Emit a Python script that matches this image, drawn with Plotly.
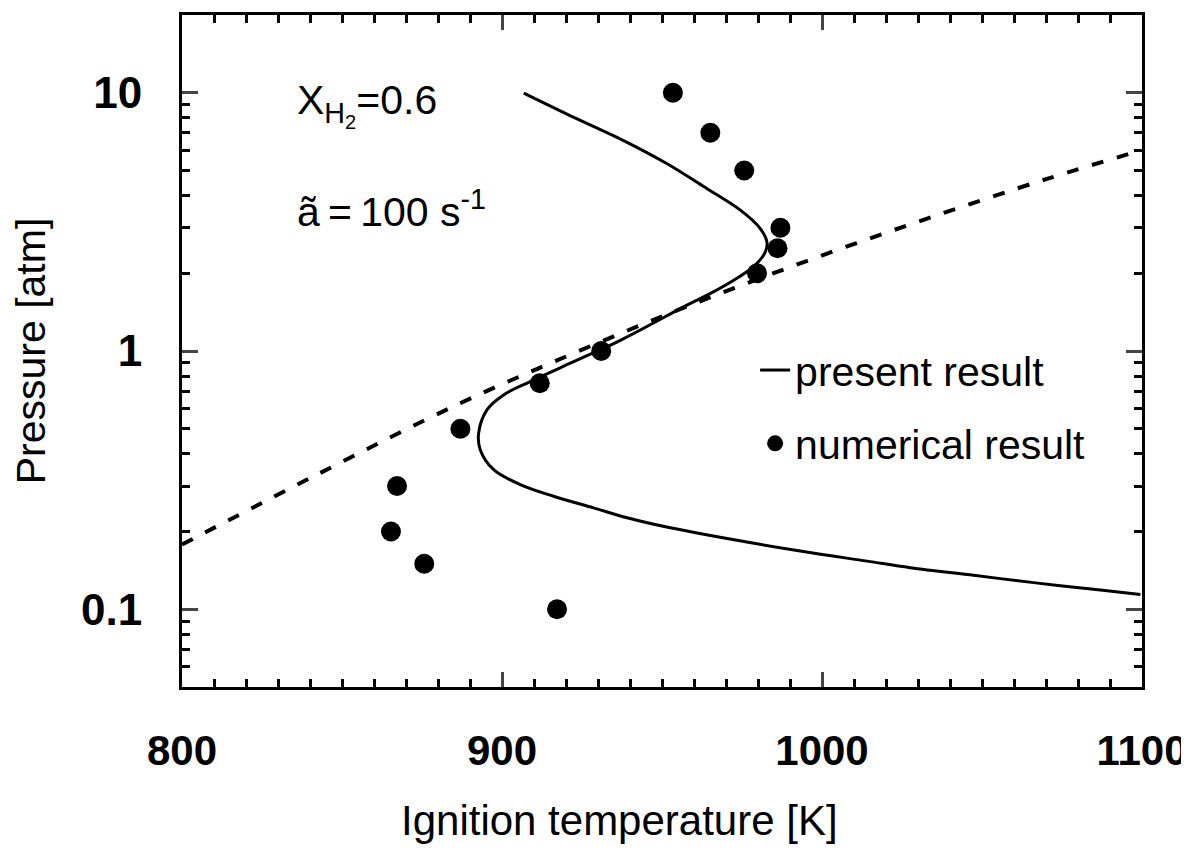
import plotly.graph_objects as go

# Present result (solid curve): ignition temperature [K], pressure [atm]
present_T = [906.8, 920.3, 938.0, 951.6, 964.1, 974.5, 980.7, 982.8, 982.3, 978.6,
             972.4, 964.1, 957.8, 937.0, 922.4, 908.8, 900.5, 895.3, 892.7, 893.2,
             897.4, 905.7, 916.1, 928.6, 939.1, 952.6, 993.2, 1014.1, 1027.6,
             1047.4, 1066.1, 1087.0, 1099.5]
present_P = [9.97, 8.27, 6.53, 5.31, 4.25, 3.51, 2.98, 2.64, 2.42, 2.12,
             1.88, 1.645, 1.505, 1.10, 0.909, 0.761, 0.676, 0.592, 0.481, 0.415,
             0.347, 0.304, 0.274, 0.247, 0.226, 0.2067, 0.168, 0.1536, 0.1449,
             0.1353, 0.1268, 0.1187, 0.114]

# Numerical result (dots)
numer_T = [953.4, 965.1, 975.7, 987.0, 986.1, 979.7, 931.0, 911.8, 887.0,
           867.2, 865.3, 875.7, 917.2]
numer_P = [10.0, 7.0, 5.0, 3.0, 2.5, 2.0, 1.0, 0.75, 0.5, 0.3, 0.2, 0.15, 0.1]

# Dashed reference curve
dash_T = [800.0, 841.1, 885.9, 922.4, 958.8, 995.8, 1033.3, 1070.3, 1099.5]
dash_P = [0.178, 0.327, 0.619, 0.98, 1.505, 2.245, 3.27, 4.64, 5.97]

x_ticks = [800, 900, 1000, 1100]
y_ticks = [0.1, 1, 10]
y_tick_text = ["0.1", "1", "10"]
y_minor = [0.05, 0.06, 0.07, 0.08, 0.09, 0.2, 0.3, 0.4, 0.5, 0.6, 0.7, 0.8, 0.9,
           2, 3, 4, 5, 6, 7, 8, 9, 20]

FONT = "Liberation Sans, Arial, Helvetica, sans-serif"

fig = go.Figure()
fig.add_trace(go.Scatter(x=dash_T, y=dash_P, mode="lines", showlegend=False,
                         line=dict(color="black", width=4, dash="12px,14px", shape="spline")))
fig.add_trace(go.Scatter(x=present_T, y=present_P, mode="lines", name="present result",
                         legendgroup="a",
                         line=dict(color="black", width=3, shape="spline")))
fig.add_trace(go.Scatter(x=numer_T, y=numer_P, mode="markers", name="numerical result",
                         legendgroup="b",
                         marker=dict(color="black", size=20)))

# the page body adds an 8px margin, so the figure is 8px smaller and margins compensate
fig.update_layout(
    width=1181, height=853,
    margin=dict(l=174, r=47, t=7, b=174),
    paper_bgcolor="white", plot_bgcolor="white",
    font=dict(family=FONT, size=40, color="black"),
    legend=dict(x=0.597, y=0.521, xanchor="left", yanchor="top",
                bgcolor="rgba(0,0,0,0)", font=dict(size=41), tracegroupgap=17),
)
fig.update_xaxes(
    range=[800, 1100], tickvals=x_ticks, ticks="inside", ticklen=15, tickwidth=2.5,
    showline=True, linecolor="black", linewidth=3, mirror="allticks",
    showgrid=False, zeroline=False, ticklabelstandoff=25, automargin=False,
    tickfont=dict(size=42, weight="bold"),
    minor=dict(dtick=10, ticks="inside", ticklen=8, tickwidth=2.5, tickcolor="black", showgrid=False),
)
fig.update_yaxes(
    type="log", range=[-1.30103, 1.30103], tickvals=y_ticks, ticktext=y_tick_text,
    ticks="inside", ticklen=16, tickwidth=2.5,
    showline=True, linecolor="black", linewidth=3, mirror="allticks",
    showgrid=False, zeroline=False, ticklabelstandoff=28, automargin=False,
    tickfont=dict(size=44, weight="bold"),
    minor=dict(tickvals=y_minor, ticks="inside", ticklen=8, tickwidth=2.5, tickcolor="black", showgrid=False),
    title=dict(text="Pressure [atm]", standoff=25, font=dict(size=41)),
)

# x-axis title (offset left of plot centre, as in the original)
fig.add_annotation(xref="paper", yref="paper", x=0.456, y=-0.199, xanchor="center", yanchor="middle",
                   text="Ignition temperature [K]", showarrow=False, font=dict(size=42))

fig.add_annotation(xref="paper", yref="paper", x=0.118, y=0.866, xanchor="left", yanchor="middle",
                   text="X<sub>H<sub>2</sub></sub>=0.6", showarrow=False, font=dict(size=41))
fig.add_annotation(xref="paper", yref="paper", x=0.118, y=0.711, xanchor="left", yanchor="middle",
                   text="ã\u2009=\u2009100 s<sup>-1</sup>", showarrow=False, font=dict(size=41))

fig.write_html("out.html")
